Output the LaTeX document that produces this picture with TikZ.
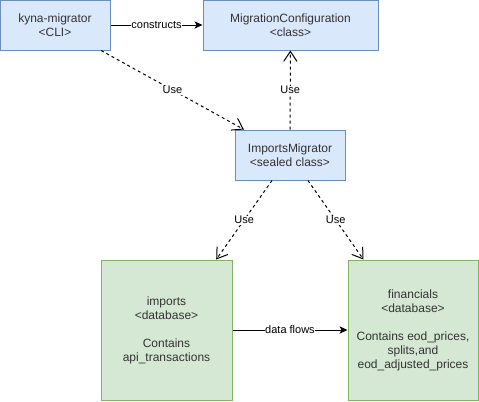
\documentclass[tikz,border=0pt]{standalone}
\usepackage{fontspec}
\setsansfont{Liberation Sans}
\usepackage{tikz}
\usepackage{xcolor}
\usetikzlibrary{positioning, arrows.meta}
\definecolor{cClassFill}  {HTML}{DAE8FC}
\definecolor{cClassLine}  {HTML}{6C8EBF}
\definecolor{cDbFill}     {HTML}{D5E8D4}
\definecolor{cDbLine}     {HTML}{82B366}
\definecolor{cText}       {HTML}{333333}

\begin{document}
\begin{tikzpicture}[x=0.75pt, y=-0.75pt,
    box/.style={draw=cClassLine, fill=cClassFill, line width=0.75pt, align=center,
      inner sep=0pt, font=\sffamily\fontsize{9}{10.5}\selectfont, text=cText},
    dbbox/.style={box, draw=cDbLine, fill=cDbFill},
    uses/.style={dashed, dash pattern=on 2.25pt off 2.25pt, line width=0.75pt,
      -{Straight Barb[length=7.5pt, width=10pt]}},
    flows/.style={line width=0.75pt, -{Stealth[length=6pt, width=5.5pt, inset=1.5pt]}},
    lbl/.style={fill=white, inner sep=0.5pt, font=\sffamily\fontsize{8.25}{9}\selectfont},
  ]
  \useasboundingbox (0,0) rectangle (479,401);
  % classes
  \node[box, minimum width=82.5pt, minimum height=37.5pt] (kyna) at (55,25)
        {kyna-migrator\\<CLI>};
  \node[box, minimum width=131.25pt, minimum height=37.5pt] (config) at (290.5,25)
        {MigrationConfiguration\\<class>};
  \node[box, minimum width=82.5pt, minimum height=37.5pt] (imig) at (290,155)
        {ImportsMigrator\\<sealed class>};
  % databases
  \node[dbbox, minimum width=98.25pt, minimum height=105pt] (imports) at (166.5,330)
        {imports\\<database>\\[10.5pt]Contains\\api\_transactions};
  \node[dbbox, minimum width=97.5pt, minimum height=105pt] (financials) at (413,330)
        {financials\\<database>\\[10.5pt]Contains eod\_prices,\\splits,and\\eod\_adjusted\_prices};
  % connectors
  \draw[flows] (kyna) -- node[lbl] {constructs} (config);
  \draw[uses] (kyna) -- node[lbl] {Use} (imig);
  \draw[uses] (imig) -- node[lbl] {Use} (config);
  \draw[uses] (imig) -- node[lbl] {Use} (imports);
  \draw[uses] (imig) -- node[lbl] {Use} (financials);
  \draw[flows] (imports) -- node[lbl] {data flows} (financials);
\end{tikzpicture}
\end{document}
